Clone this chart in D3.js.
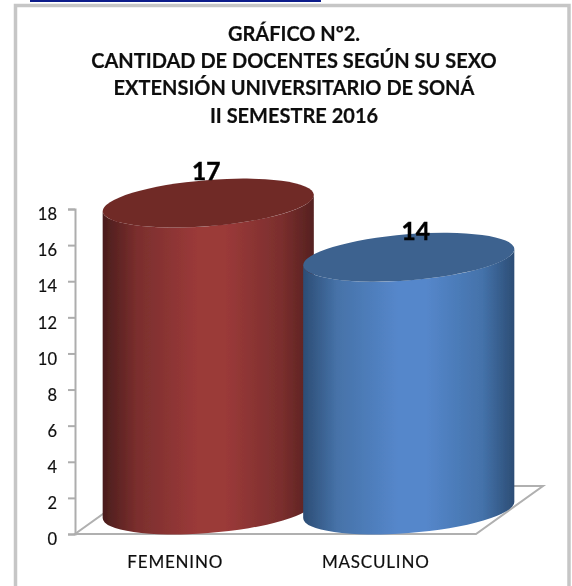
<!DOCTYPE html>
<html><head><meta charset="utf-8">
<script src="https://cdn.jsdelivr.net/npm/d3@7"></script>
<style>html,body{margin:0;padding:0;background:#fff}svg{display:block}</style></head>
<body><svg id="c" width="572" height="586"></svg>
<script>
const categories = ["FEMENINO", "MASCULINO"];
const values = [17, 14];
const yTicks = [0,2,4,6,8,10,12,14,16,18];
const titleLines = ["GRÁFICO Nº2.", "CANTIDAD DE DOCENTES SEGÚN SU SEXO", "EXTENSIÓN UNIVERSITARIO DE SONÁ", "II SEMESTRE 2016"];
const barColors = [
 {stops:["#4a1d1c","#7a2e2d","#9b3a39","#9b3a39","#7a2e2d","#552120"], top:"#6f2a28"},
 {stops:["#2c4d75","#4672a8","#5587cb","#5587cb","#4472aa","#2c4d75"], top:"#3d628f"}
];
const font = "Lato, Carlito, sans-serif";
const svg = d3.select("#c");
const x = d3.scaleBand().domain(categories).range([75,476]);
const y = d3.scaleLinear().domain([0,18]).range([534,209]);
const dx=33, dy=-24, ry=23, rxE=105.9, tilt=-4.6;
const labelOffsets=[[-2,-23.5],[7,-17]];

const defs=svg.append("defs");
defs.append("filter").attr("id","soft").attr("x","-5%").attr("y","-5%").attr("width","110%").attr("height","110%")
  .append("feGaussianBlur").attr("stdDeviation",0.45);
barColors.forEach((b,i)=>{
  const g=defs.append("linearGradient").attr("id","g"+i);
  [0,.16,.45,.58,.85,1].forEach((o,k)=>g.append("stop").attr("offset",o).attr("stop-color",b.stops[k]));
});

const root=svg.append("g").attr("filter","url(#soft)");
root.append("rect").attr("x",30).attr("y",0).attr("width",291).attr("height",2).attr("fill","#0a1a8a");
root.append("rect").attr("x",15.5).attr("y",5.5).attr("width",553.5).attr("height",600).attr("fill","#fff").attr("stroke","#c6c6c6").attr("stroke-width",3.5);

// floor
const fl=[[75,534],[476,534],[543,486],[142,486]];
root.append("path").attr("d","M"+fl.map(p=>p.join(",")).join("L")+"Z").attr("fill","none").attr("stroke","#b0b0b0").attr("stroke-width",2);

// y axis
const axis = d3.axisLeft(y).tickValues(yTicks).tickSize(7).tickPadding(11);
const ga = root.append("g").attr("transform","translate(75,0)").call(axis);
ga.selectAll("path,line").attr("stroke","#adadad").attr("stroke-width",2);
ga.selectAll("text").attr("font-family",font).attr("font-size",16.5).attr("fill","#111").attr("dy","0.65em").attr("stroke","#111").attr("stroke-width",0.2);

// x labels
root.selectAll(".xl").data(categories).enter().append("text").attr("class","xl")
 .attr("x",d=>x(d)+x.bandwidth()/2).attr("y",568).attr("text-anchor","middle")
 .attr("font-family",font).attr("font-size",17).attr("letter-spacing",0.8).attr("fill","#111").attr("stroke","#111").attr("stroke-width",0.2).text(d=>d);

function ellipsePt(cx,cy,t){
  const th=tilt*Math.PI/180;
  const ex=rxE*Math.cos(t), ey=ry*Math.sin(t);
  return [cx+ex*Math.cos(th)-ey*Math.sin(th), cy+ex*Math.sin(th)+ey*Math.cos(th)];
}
categories.forEach((c,i)=>{
  const cx=x(c)+x.bandwidth()/2+dx;
  const base=y(0)+dy, top=y(values[i])+dy;
  const th=tilt*Math.PI/180;
  const t0=Math.atan2(-ry*Math.sin(th), rxE*Math.cos(th));
  const R=ellipsePt(cx,base,t0), L=ellipsePt(cx,base,t0+Math.PI);
  const R2=ellipsePt(cx,top,t0), L2=ellipsePt(cx,top,t0+Math.PI);
  const d=`M${L2}L${L}A${rxE},${ry},${tilt},0,0,${R}L${R2}A${rxE},${ry},${tilt},0,1,${L2}Z`;
  root.append("path").attr("d",d).attr("fill",`url(#g${i})`);
  root.append("ellipse").attr("rx",rxE).attr("ry",ry)
    .attr("transform",`translate(${cx},${top}) rotate(${tilt})`).attr("fill",barColors[i].top);
  root.append("text").attr("x",cx+labelOffsets[i][0]).attr("y",top+labelOffsets[i][1]).attr("text-anchor","middle")
    .attr("font-family",font).attr("font-weight",700).attr("font-size",24.5).attr("fill","#050505").attr("stroke","#050505").attr("stroke-width",0.5).text(values[i]);
});

// title
const tb=[40.5,68,95,122.5];
root.selectAll(".t").data(titleLines).enter().append("text").attr("class","t")
 .attr("x",294).attr("y",(d,i)=>tb[i]).attr("text-anchor","middle")
 .attr("font-family",font).attr("font-weight",700).attr("font-size",20).attr("fill","#111").attr("stroke","#111").attr("stroke-width",0.2).text(d=>d);
</script></body></html>
